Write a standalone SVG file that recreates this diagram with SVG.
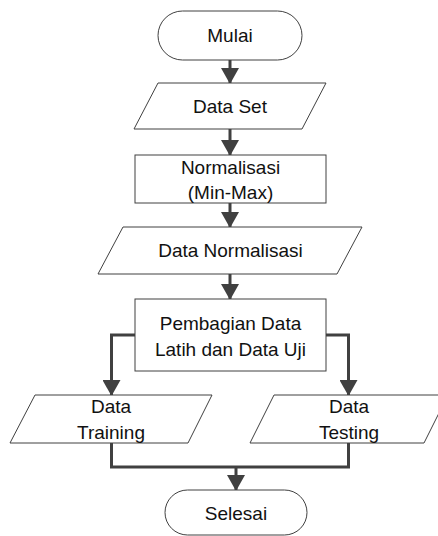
<svg xmlns="http://www.w3.org/2000/svg" width="438" height="536" viewBox="0 0 438 536">
<style>
.shape{fill:#ffffff;stroke:#404040;stroke-width:1}
.lbl{font-family:"Liberation Sans",Arial,sans-serif;font-size:19px;fill:#111111;text-anchor:middle}
.conn{fill:none;stroke:#404040;stroke-width:3;stroke-linejoin:miter}
</style>
<defs>
<marker id="ah" markerUnits="userSpaceOnUse" markerWidth="16" markerHeight="18" refX="15" refY="9" orient="auto">
<path d="M0,0 L16,9 L0,18 Z" fill="#404040"/>
</marker>
</defs>
<rect width="438" height="536" fill="#ffffff"/>
<g id="connectors">
<line class="conn" x1="230" y1="60" x2="230" y2="83" marker-end="url(#ah)"/>
<line class="conn" x1="230" y1="129" x2="230" y2="155" marker-end="url(#ah)"/>
<line class="conn" x1="230" y1="203" x2="230" y2="227" marker-end="url(#ah)"/>
<line class="conn" x1="230" y1="274" x2="230" y2="299" marker-end="url(#ah)"/>
<polyline class="conn" points="135,335 111.5,335 111.5,395" marker-end="url(#ah)"/>
<polyline class="conn" points="326,335 348.5,335 348.5,395" marker-end="url(#ah)"/>
<polyline class="conn" points="111.5,443 111.5,467 348.5,467 348.5,443"/>
<line class="conn" x1="236" y1="467" x2="236" y2="490" marker-end="url(#ah)"/>
</g>
<g id="mulai">
<rect class="shape" x="158" y="11" width="144" height="49" rx="24.5" ry="24.5"/>
<text class="lbl" x="230" y="42">Mulai</text>
</g>
<g id="data-set">
<polygon class="shape" points="158,83 326,83 302,129 134,129"/>
<text class="lbl" x="230" y="113">Data Set</text>
</g>
<g id="normalisasi">
<rect class="shape" x="135" y="155" width="191" height="48"/>
<text class="lbl" x="230.5" y="173.5">Normalisasi</text>
<text class="lbl" x="230.5" y="198.5">(Min-Max)</text>
</g>
<g id="data-normalisasi">
<polygon class="shape" points="123,227 362,227 337,274 98,274"/>
<text class="lbl" x="230.5" y="257">Data Normalisasi</text>
</g>
<g id="pembagian">
<rect class="shape" x="135" y="299" width="191" height="72"/>
<text class="lbl" x="230.5" y="329.5">Pembagian Data</text>
<text class="lbl" x="230.5" y="356">Latih dan Data Uji</text>
</g>
<g id="data-training">
<polygon class="shape" points="35,395 212,395 188,443 10,443"/>
<text class="lbl" x="111" y="412.5">Data</text>
<text class="lbl" x="111" y="438.5">Training</text>
</g>
<g id="data-testing">
<polygon class="shape" points="274,395 448,395 424,443 250,443"/>
<text class="lbl" x="349" y="412.5">Data</text>
<text class="lbl" x="349" y="438.5">Testing</text>
</g>
<g id="selesai">
<rect class="shape" x="165" y="490" width="142" height="45" rx="22.5" ry="22.5"/>
<text class="lbl" x="236" y="520">Selesai</text>
</g>
</svg>
